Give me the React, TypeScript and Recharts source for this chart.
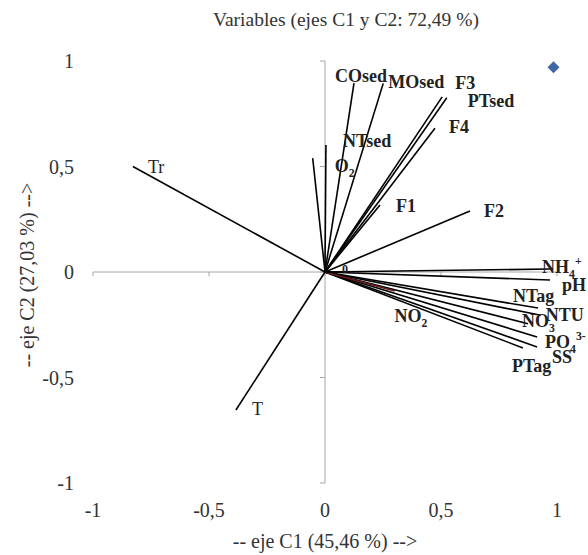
import React from 'react';
import { ScatterChart, Scatter, XAxis, YAxis, ReferenceLine, Label } from 'recharts';

// loadings on the first two components
const variableNames = ['COsed', 'MOsed', 'F3', 'PTsed', 'F4', 'NTsed', 'O_2', 'F1', 'F2', 'Tr', 'T',
  'NH_4^+', 'pH', 'NTag', 'NTU', 'NO_3', 'PO_4^3-', 'SS', 'PTag', 'NO_2', '0'];
const c1Values = [0.125, 0.251, 0.505, 0.525, 0.474, 0.004, -0.053, 0.237, 0.625, -0.828, -0.384,
  0.97, 0.97, 0.918, 0.93, 0.875, 0.914, 0.914, 0.853, 0.30, 0.06];
const c2Values = [0.895, 0.894, 0.83, 0.826, 0.681, 0.602, 0.54, 0.318, 0.289, 0.5, -0.654,
  0.014, -0.038, -0.171, -0.205, -0.245, -0.308, -0.355, -0.36, -0.09, 0.0];

// label offsets in px from the vector tip (start of text, baseline)
const labelDx = [-19, 5, 13, 21, 14, 17, 22, 16, 14, 15, 16, -8, 12, -25, 5, -6, 8, 15, -11, 0, 3];
const labelDy = [-1, 5, -8, 9, 5, 2, 14, 7, 6, 6, 5, 4, 11, -6, 6, 3, 11, 16, 24, 31, 1];
const plainLabels = ['Tr', 'T'];

const obsPoint = [{ x: 0.985, y: 0.97 }];
const axisTicks = [-1, -0.5, 0, 0.5, 1];

const FONT = 'Liberation Serif, DejaVu Serif, serif';
const fmt = (v: number) => String(v).replace('.', ',');

const vectors = variableNames.map((name, i) => ({
  name,
  x: c1Values[i],
  y: c2Values[i],
  dx: labelDx[i],
  dy: labelDy[i],
}));

// "NH_4^+" -> NH, sub 4, sup +
const renderRich = (txt: string, size: number) => {
  const parts: React.ReactNode[] = [];
  const re = /([^_^]+)|_([^_^]+)|\^([^_^]+)/g;
  let m: RegExpExecArray | null;
  let shift = 0;
  let k = 0;
  while ((m = re.exec(txt)) !== null) {
    if (m[1]) {
      parts.push(<tspan key={k++} dy={-shift}>{m[1]}</tspan>);
      shift = 0;
    } else if (m[2]) {
      parts.push(<tspan key={k++} dy={5 - shift} fontSize={size * 0.65}>{m[2]}</tspan>);
      shift = 5;
    } else if (m[3]) {
      parts.push(<tspan key={k++} dy={-8 - shift} fontSize={size * 0.65}>{m[3]}</tspan>);
      shift = -8;
    }
  }
  return parts;
};

const VectorLabel = (props: any) => {
  const { cx, cy, payload } = props;
  if (cx == null || cy == null) return <g />;
  const plain = plainLabels.includes(payload.name);
  const small = payload.name === '0';
  const size = small ? 12 : 18;
  return (
    <text
      x={cx + payload.dx}
      y={cy + payload.dy}
      style={{ fontFamily: FONT }}
      fontSize={size}
      fontWeight={plain ? 'normal' : 'bold'}
      fill="#222"
    >
      {renderRich(payload.name, size)}
    </text>
  );
};

const Diamond = (props: any) => {
  const { cx, cy } = props;
  const r = 6;
  return <polygon points={`${cx},${cy - r} ${cx + r},${cy} ${cx},${cy + r} ${cx - r},${cy}`} fill="#3e66a8" />;
};

const App: React.FC = () => {
  return (
    <div style={{ position: 'absolute', left: 0, top: 0, width: 588, height: 555, background: '#fff' }}>
      <div
        style={{
          position: 'absolute',
          left: 0,
          width: 692,
          top: 9,
          textAlign: 'center',
          fontFamily: FONT,
          fontSize: 19.5,
          color: '#333',
        }}
      >
        Variables (ejes C1 y C2: 72,49 %)
      </div>
      <ScatterChart width={588} height={555} margin={{ top: 61, right: 31, bottom: 0, left: 0 }}>
        <XAxis
          type="number"
          dataKey="x"
          domain={[-1, 1]}
          ticks={axisTicks}
          tickFormatter={fmt}
          axisLine={false}
          tickLine={false}
          tickSize={10}
          tickMargin={10}
          height={72}
          tick={{ fontFamily: FONT, fontSize: 20, fill: '#333' }}
        >
          <Label
            value="-- eje C1 (45,46 %) -->"
            position="insideBottom"
            offset={7}
            style={{ fontFamily: FONT, fontSize: 20, fill: '#333' }}
          />
        </XAxis>
        <YAxis
          type="number"
          dataKey="y"
          domain={[-1, 1]}
          ticks={axisTicks}
          tickFormatter={fmt}
          axisLine={false}
          tickLine={false}
          tickSize={9}
          tickMargin={10}
          width={93}
          tick={{ fontFamily: FONT, fontSize: 20, fill: '#333' }}
        >
          <Label
            content={() => (
              <text
                x={27}
                y={275}
                transform="rotate(-90 27 275)"
                textAnchor="middle"
                dominantBaseline="central"
                style={{ fontFamily: FONT }}
                fontSize={20}
                fill="#333"
              >
                -- eje C2 (27,03 %) --&gt;
              </text>
            )}
          />
        </YAxis>

        <ReferenceLine y={0} stroke="#a6a6a6" strokeWidth={1} />
        <ReferenceLine x={0} stroke="#a6a6a6" strokeWidth={1} />
        {axisTicks.map((t) => (
          <ReferenceLine
            key={`xt${t}`}
            segment={[{ x: t, y: 0 }, { x: t, y: -0.02 }]}
            stroke="#a6a6a6"
            ifOverflow="visible"
          />
        ))}
        {axisTicks.map((t) => (
          <ReferenceLine
            key={`yt${t}`}
            segment={[{ x: -0.022, y: t }, { x: 0, y: t }]}
            stroke="#a6a6a6"
            ifOverflow="visible"
          />
        ))}

        {vectors.map((v) => (
          <Scatter
            key={v.name}
            data={[{ x: 0, y: 0 }, { x: v.x, y: v.y }]}
            line={{ stroke: v.name === 'NO_2' ? '#6b1a1a' : '#000', strokeWidth: 1.6 }}
            shape={() => <g />}
            isAnimationActive={false}
          />
        ))}
        <Scatter data={vectors} shape={VectorLabel} isAnimationActive={false} />
        <Scatter data={obsPoint} shape={Diamond} isAnimationActive={false} />
      </ScatterChart>
    </div>
  );
};

export default App;
